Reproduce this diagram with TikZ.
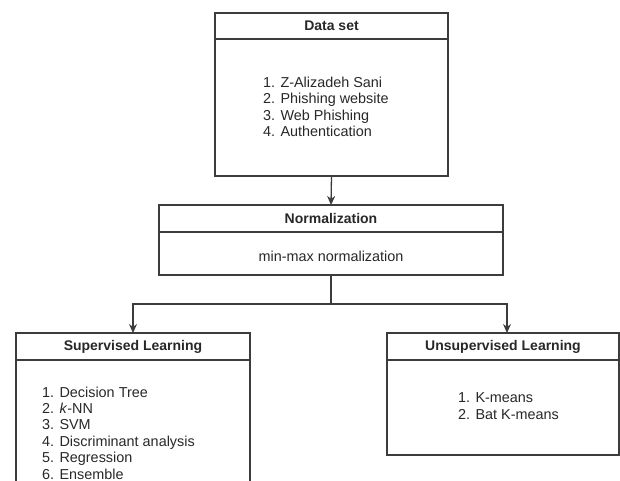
\documentclass[tikz,border=0pt]{standalone}
\usepackage{fontspec}
\setmainfont{Liberation Sans}
\usetikzlibrary{arrows.meta}
\definecolor{ln}{RGB}{60,60,60}
\definecolor{tx}{RGB}{40,40,40}
\tikzset{
  box/.style={draw=ln, line width=1.2pt, fill=white, minimum width=#1, inner sep=0pt, outer sep=0pt},
  boxline/.style={draw=ln, line width=1.2pt},
  ttl/.style={font=\fontsize{14}{16}\selectfont\bfseries, text=tx, inner sep=0pt},
  body/.style={font=\fontsize{14.4}{16.4}\selectfont, text=tx, align=left, inner sep=0pt},
  conn/.style={draw=ln, line width=1.3pt, -{Stealth[length=9pt,width=8pt]}},
  wire/.style={draw=ln, line width=1.3pt}
}
\begin{document}
\begin{tikzpicture}[x=1pt,y=-1pt]
\clip (0,0) rectangle (620,481);
\fill[white] (0,0) rectangle (620,481);
% Data set
\node[box=233pt, minimum height=163pt] (data) at (331.5,94.5) {};
\draw[boxline] (215,39) -- (448,39);
\node[ttl] (dataT) at (331.5,26) {Data set};
\node[body, anchor=west] (dataB) at (263,107) {1. Z-Alizadeh Sani\\2. Phishing website\\3. Web Phishing\\4. Authentication};
% Normalization
\node[box=344pt, minimum height=70pt] (norm) at (331,240) {};
\draw[boxline] (159,232) -- (503,232);
\node[ttl] (normT) at (331,218.5) {Normalization};
\node[body] (normB) at (331,256) {min-max normalization};
% Supervised
\node[box=234pt, minimum height=200pt] (sup) at (133,433) {};
\draw[boxline] (16,360) -- (250,360);
\node[ttl] (supT) at (133,347) {Supervised Learning};
\node[body, anchor=west] (supB) at (42,433) {1. Decision Tree\\2. \textit{k}-NN\\3. SVM\\4. Discriminant analysis\\5. Regression\\6. Ensemble};
% Unsupervised
\node[box=232pt, minimum height=122pt] (unsup) at (503,394) {};
\draw[boxline] (387,360) -- (619,360);
\node[ttl] (unsupT) at (503,347) {Unsupervised Learning};
\node[body, anchor=west] (unsupB) at (458,406) {1. K-means\\2. Bat K-means};
% connectors
\coordinate (j) at (331,304);
\coordinate (ut) at (507,333);
\draw[conn] (data.south) -- (norm.north);
\draw[wire] (norm.south) -- (j);
\draw[conn] (j) -| (sup.north);
\draw[conn] (j) -| (ut);
\end{tikzpicture}
\end{document}
